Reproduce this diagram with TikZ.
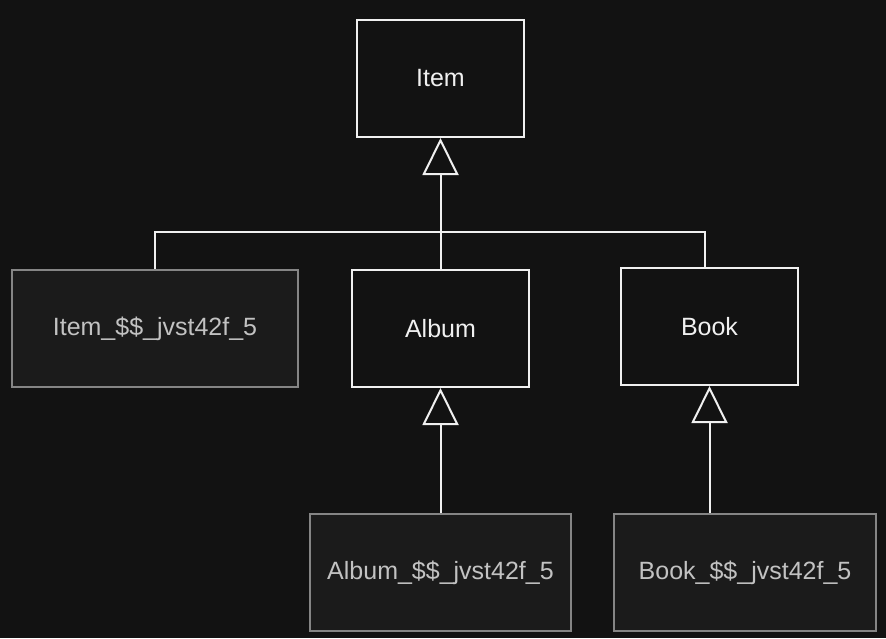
\documentclass[tikz,border=0pt]{standalone}
\usepackage{fontspec}
\setmainfont{Liberation Sans}
\usepackage{tikz}
\usetikzlibrary{arrows.meta}

\definecolor{bgcol}{HTML}{121212}
\definecolor{boxfill}{HTML}{1B1B1B}
\definecolor{boxgray}{HTML}{858585}
\definecolor{txtgray}{HTML}{C2C2C2}
\definecolor{linecol}{HTML}{F0F0F0}

\tikzset{
    cls/.style={draw=linecol, fill=bgcol, text=linecol, line width=2pt,
        inner sep=0pt, font=\fontsize{25}{30}\selectfont},
    proxy/.style={draw=boxgray, fill=boxfill, text=txtgray, line width=2pt,
        inner sep=0pt, font=\fontsize{25}{30}\selectfont},
    link/.style={draw=linecol, line width=2pt},
    gen/.style={link, -{Triangle[open, length=37pt, width=36pt]}}
}

\begin{document}
\begin{tikzpicture}[x=1pt, y=-1pt]
    % background
    \fill[bgcol] (0, 0) rectangle (886, 638);

    % classes
    \node[cls, minimum width=167pt, minimum height=117pt] (item) at (440.5, 78.5) {Item};
    \node[cls, minimum width=177pt, minimum height=117pt] (album) at (440.5, 328.5) {Album};
    \node[cls, minimum width=177pt, minimum height=117pt] (book) at (709.5, 326.5) {Book};

    % proxies
    \node[proxy, minimum width=286pt, minimum height=117pt] (itemx) at (155, 328.5) {Item\_\$\$\_jvst42f\_5};
    \node[proxy, minimum width=261pt, minimum height=117pt] (albumx) at (440.5, 572.5) {Album\_\$\$\_jvst42f\_5};
    \node[proxy, minimum width=262pt, minimum height=117pt] (bookx) at (745, 572.5) {Book\_\$\$\_jvst42f\_5};

    % inheritance
    \coordinate (bar) at (440.5, 232);
    \draw[gen] (album.north) -- (item.south);
    \draw[link] (itemx.north) |- (bar) -| ([xshift=-4.5pt]book.north);
    \draw[gen] (albumx.north) -- (album.south);
    \draw[gen] (bookx.north -| book.south) -- (book.south);

\end{tikzpicture}
\end{document}
